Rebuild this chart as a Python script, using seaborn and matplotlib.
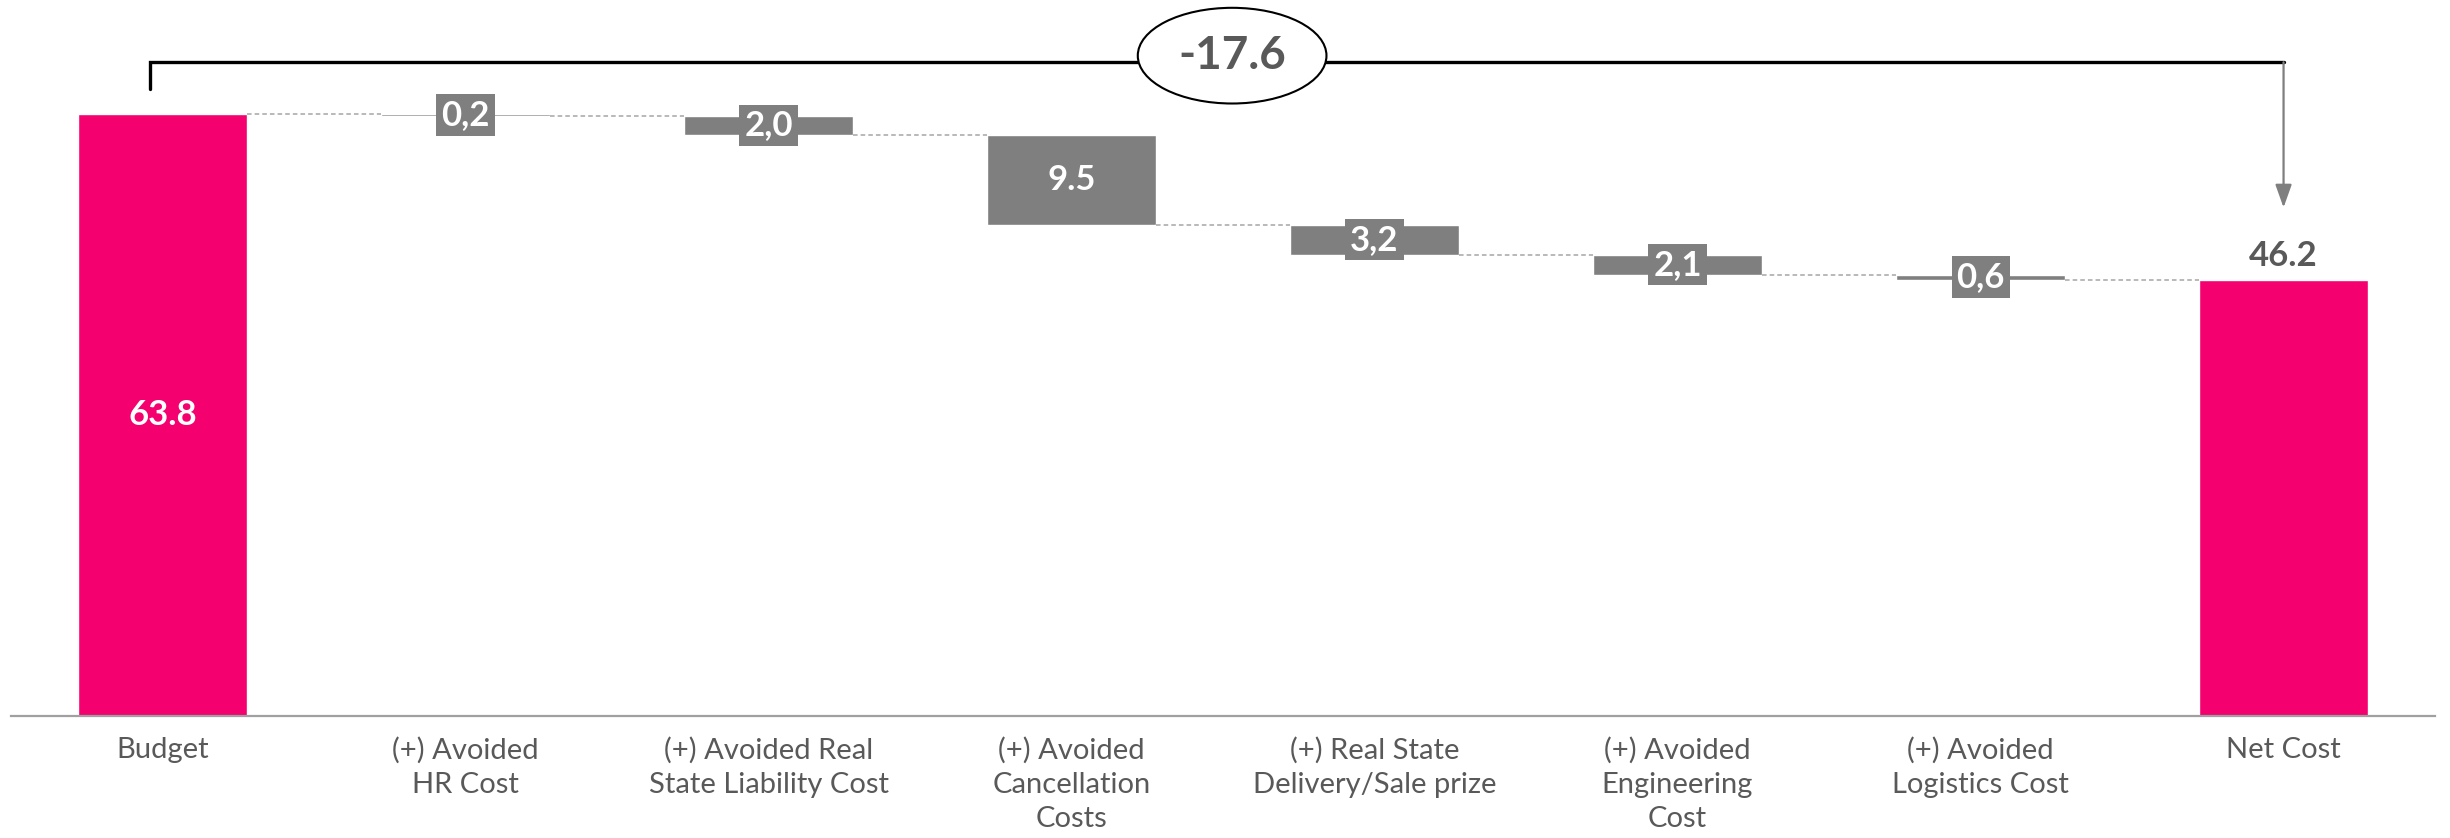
import numpy as np
import pandas as pd
import seaborn as sns
import matplotlib.pyplot as plt

# waterfall data
categories = [
    "Budget",
    "(+) Avoided\nHR Cost",
    "(+) Avoided Real\nState Liability Cost",
    "(+) Avoided\nCancellation\nCosts",
    "(+) Real State\nDelivery/Sale prize",
    "(+) Avoided\nEngineering\nCost",
    "(+) Avoided\nLogistics Cost",
    "Net Cost",
]
budget = 63.8
net_cost = 46.2
savings = [0.2, 2.0, 9.5, 3.2, 2.1, 0.6]
saving_labels = ["0,2", "2,0", "9.5", "3,2", "2,1", "0,6"]
budget_label = "63.8"
net_label = "46.2"
total_label = "-17.6"

PINK = "#F4006F"
GREY = "#7F7F7F"
TEXT = "#595959"
BAR_W = 0.557

sns.set_style("white")
plt.rcParams["font.family"] = ["Lato", "DejaVu Sans"]

# running level after each step
levels = budget - np.cumsum(savings)
df_tot = pd.DataFrame({"cat": [categories[0], categories[-1]], "value": [budget, net_cost]})
df_chg = pd.DataFrame({"cat": categories[1:-1], "height": savings, "bottom": levels})

fig = plt.figure(figsize=(24.5, 8.38), dpi=100)
ax = fig.add_axes([0.0045, 0.1456, 0.9894, 0.8544])

sns.barplot(data=df_tot, x="cat", y="value", order=categories, color=PINK,
            saturation=1, width=BAR_W, errorbar=None, ax=ax)
sns.barplot(data=df_chg, x="cat", y="height", order=categories, color=GREY,
            saturation=1, width=BAR_W, errorbar=None, ax=ax,
            bottom=df_chg["bottom"].to_numpy())

# dashed connectors between bars
conn = np.concatenate([[budget], levels])
for i, lvl in enumerate(conn):
    ax.plot([i + BAR_W / 2, i + 1 - BAR_W / 2], [lvl, lvl], color="#A6A6A6",
            lw=1.1, ls=(0, (3, 2)), zorder=1)

# value labels
ax.text(0, budget / 2, budget_label, ha="center", va="center", color="white",
        fontsize=25, fontweight="bold")
ax.annotate(net_label, xy=(7, net_cost), xytext=(0, 6), textcoords="offset points",
            ha="center", va="bottom", color=TEXT, fontsize=25, fontweight="bold")
for i, (h, b, lab) in enumerate(zip(savings, levels, saving_labels), start=1):
    ax.text(i, b + h / 2, lab, ha="center", va="center", color="white",
            fontsize=25, fontweight="bold", zorder=4,
            bbox=dict(boxstyle="square,pad=0.14", fc=GREY, ec="none"))

# bracket with total change
top = 69.3
ax.plot([-0.04, -0.04, 7], [66.5, top, top], color="black", lw=2.4,
        solid_joinstyle="miter", clip_on=False, zorder=3)
ax.annotate("", xy=(7, 53.9), xytext=(7, top),
            arrowprops=dict(arrowstyle="-|>,head_length=1.4,head_width=0.5",
                            color=GREY, lw=1.6, shrinkA=0, shrinkB=0))
ax.text(3.53, 70.0, total_label, ha="center", va="center", color=TEXT,
        fontsize=33, fontweight="bold", zorder=5,
        bbox=dict(boxstyle="ellipse,pad=0.28", fc="white", ec="black", lw=1.5))

ax.set_xlim(-0.5, 7.5)
ax.set_ylim(0, 75.9)
ax.set_xlabel("")
ax.set_ylabel("")
ax.set_yticks([])
ax.tick_params(axis="x", length=0, pad=15, labelsize=21, labelcolor=TEXT)
for t in ax.get_xticklabels():
    t.set_linespacing(1.4)
    t.set_verticalalignment("top")
for s in ["top", "left", "right"]:
    ax.spines[s].set_visible(False)
ax.spines["bottom"].set_color("#A0A0A0")
ax.spines["bottom"].set_linewidth(1.6)

fig.savefig("out.png", dpi=100)
